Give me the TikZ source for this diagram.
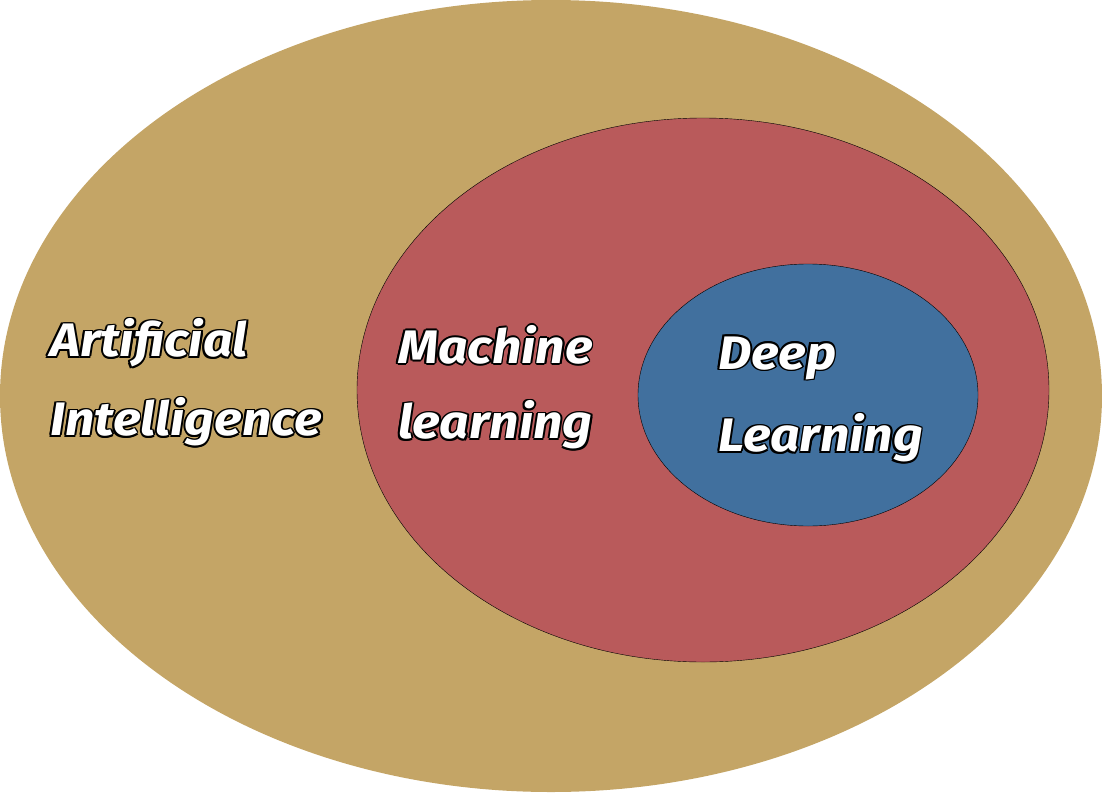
\documentclass[tikz,border=0pt]{standalone}
\usepackage{fontspec}
\usetikzlibrary{shapes.geometric}
\setmainfont{Fira Sans}
\definecolor{tan}{HTML}{C4A566}
\definecolor{mlred}{HTML}{B95A5B}
\definecolor{dlblue}{HTML}{41709E}
\newcommand{\olabel}[3]{%
  \foreach \dx/\dy in {1.8/0,-1.8/0,0/1.8,0/-1.8,1.3/1.3,-1.3/1.3,1.3/-1.3,-1.3/-1.3}{
    \node[lbl,text=black] at ([xshift=\dx pt,yshift=\dy pt]#1) {#3};}
  \node[lbl,text=white] (#2) at (#1) {#3};}
\begin{document}
\begin{tikzpicture}[x=1pt,y=-1pt,
  lbl/.style={anchor=west,inner sep=0pt,xscale=1.1,font=\fontsize{47}{50}\selectfont\bfseries\itshape}]
\useasboundingbox (0,0) rectangle (1102,792);
\node[ellipse,fill=tan,minimum width=1102pt,minimum height=792pt,inner sep=0pt] (ai) at (551,396) {};
\node[draw=black,fill=mlred,ellipse,minimum width=692pt,minimum height=544pt,inner sep=0pt] (ml) at (703,390) {};
\node[draw=black,fill=dlblue,ellipse,minimum width=340pt,minimum height=262pt,inner sep=0pt] (dl) at (808,395) {};
\coordinate (p1) at (50,343); \coordinate (p2) at (50,422);
\coordinate (p3) at (398,345); \coordinate (p4) at (398,425);
\coordinate (p5) at (718,358); \coordinate (p6) at (718,438);
\olabel{p1}{t1}{Artificial}
\olabel{p2}{t2}{Intelligence}
\olabel{p3}{t3}{Machine}
\olabel{p4}{t4}{learning}
\olabel{p5}{t5}{Deep}
\olabel{p6}{t6}{Learning}
\end{tikzpicture}
\end{document}
